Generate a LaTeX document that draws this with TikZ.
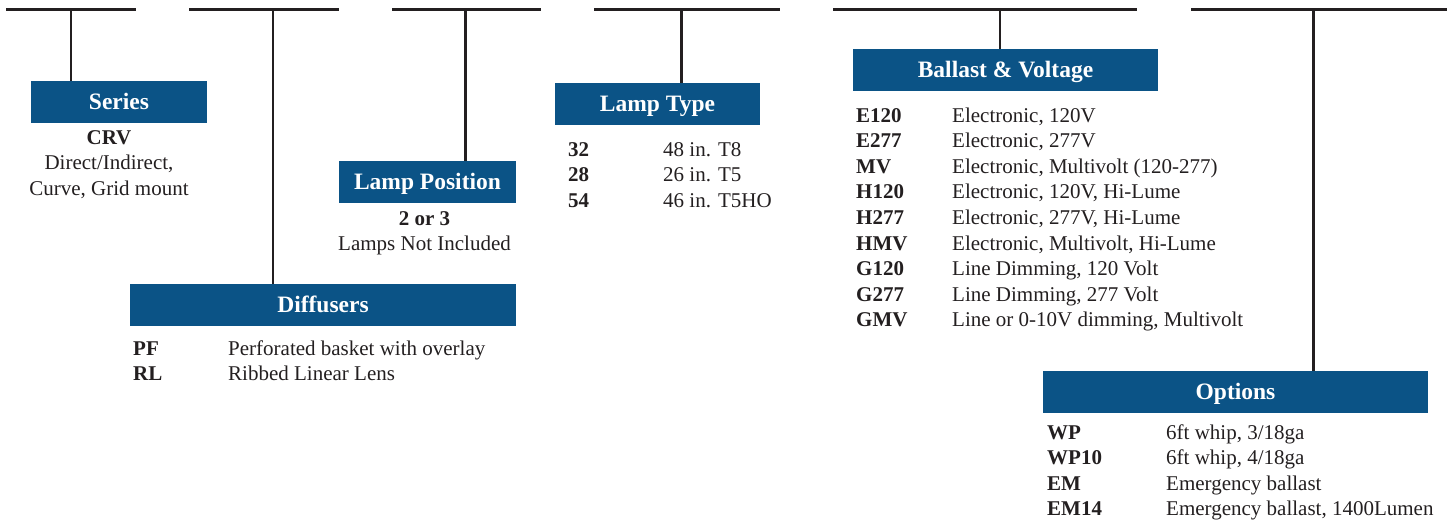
\documentclass[tikz,border=0pt]{standalone}
\usepackage{fontspec}
\setmainfont{Liberation Serif}
\definecolor{hdrblue}{HTML}{0B5386}
\definecolor{ink}{HTML}{231F20}
\begin{document}
\begin{tikzpicture}[x=1pt,y=-1pt,
  bar/.style={draw=ink,line width=2.7pt},
  stem/.style={draw=ink,line width=2.6pt},
  hdr/.style={fill=hdrblue,text=white,inner sep=0pt,minimum height=42pt,
    font=\fontsize{23.5}{28}\selectfont\bfseries,text height=15.5pt,text depth=0pt},
  code/.style={anchor=base west,inner sep=0pt,text=ink,font=\fontsize{21}{25.5}\selectfont\bfseries},
  desc/.style={anchor=base west,inner sep=0pt,text=ink,font=\fontsize{21}{25.5}\selectfont},
  ctr/.style={anchor=base,inner sep=0pt,text=ink,font=\fontsize{21}{25.5}\selectfont},
  ctrb/.style={anchor=base,inner sep=0pt,text=ink,font=\fontsize{21}{25.5}\selectfont\bfseries}]
\useasboundingbox (0,0) rectangle (1452,520);

% top bars
\coordinate (b1l) at (6,9.5);   \coordinate (b1r) at (136,9.5);
\coordinate (b2l) at (189,9.5); \coordinate (b2r) at (339,9.5);
\coordinate (b3l) at (392,9.5); \coordinate (b3r) at (541,9.5);
\coordinate (b4l) at (594,9.5); \coordinate (b4r) at (780,9.5);
\coordinate (b5l) at (833,9.5); \coordinate (b5r) at (1137,9.5);
\coordinate (b6l) at (1191,9.5);\coordinate (b6r) at (1447,9.5);
\foreach \i in {1,...,6} \draw[bar] (b\i l) -- (b\i r);

% stem tops
\coordinate (t1) at (71,9.5);
\coordinate (t2) at (273,9.5);
\coordinate (t3) at (465.5,9.5);
\coordinate (t4) at (681.5,9.5);
\coordinate (t5) at (1000,9.5);
\coordinate (t6) at (1313.5,9.5);

% header boxes
\node[hdr,minimum width=176pt] (series) at (119,102) {Series};
\node[hdr,minimum width=386pt] (diff) at (323,305) {Diffusers};
\node[hdr,minimum width=177pt] (lpos) at (427.5,182) {Lamp Position};
\node[hdr,minimum width=205pt] (ltype) at (657.5,104) {Lamp Type};
\node[hdr,minimum width=305pt] (ballast) at (1005.5,70) {Ballast \& Voltage};
\node[hdr,minimum width=385pt] (opts) at (1235.5,392) {Options};

% stems
\draw[stem] (t1) -- (t1 |- series.north);
\draw[stem] (t2) -- (t2 |- diff.north);
\draw[stem] (t3) -- (t3 |- lpos.north);
\draw[stem] (t4) -- (t4 |- ltype.north);
\draw[stem] (t5) -- (t5 |- ballast.north);
\draw[stem] (t6) -- (t6 |- opts.north);

% Series
\node[ctrb] (s1) at (109,144) {CRV};
\node[ctr] (s2) at (109,169) {Direct/Indirect,};
\node[ctr] (s3) at (109,195) {Curve, Grid mount};

% Lamp position
\node[ctrb] (p1) at (424.5,225) {2 or 3};
\node[ctr] (p2) at (424.5,250) {Lamps Not Included};

% Lamp type
\foreach \c/\d [count=\k from 0] in {32/48 in. T8,28/26 in. T5,54/46 in. T5HO}{
  \node[code] (lc\k) at (568,156+25.5*\k) {\c};
  \node[desc] (ld\k) at (663,156+25.5*\k) {\d};
}

% Diffusers
\node[code] (dc0) at (133,355) {PF};
\node[desc] (dd0) at (228,355) {Perforated basket with overlay};
\node[code] (dc1) at (133,380.5) {RL};
\node[desc] (dd1) at (228,380.5) {Ribbed Linear Lens};

% Ballast
\foreach \c/\d [count=\k from 0] in {E120/{Electronic, 120V},E277/{Electronic, 277V},
  MV/{Electronic, Multivolt (120-277)},H120/{Electronic, 120V, Hi-Lume},
  H277/{Electronic, 277V, Hi-Lume},HMV/{Electronic, Multivolt, Hi-Lume},
  G120/{Line Dimming, 120 Volt},G277/{Line Dimming, 277 Volt},
  GMV/{Line or 0-10V dimming, Multivolt}}{
  \node[code] (bc\k) at (856,122+25.6*\k) {\c};
  \node[desc] (bd\k) at (952,122+25.6*\k) {\d};
}

% Options
\foreach \c/\d [count=\k from 0] in {WP/{6ft whip, 3/18ga},WP10/{6ft whip, 4/18ga},
  EM/{Emergency ballast},EM14/{Emergency ballast, 1400Lumen}}{
  \node[code] (oc\k) at (1047,439+25.5*\k) {\c};
  \node[desc] (od\k) at (1166,439+25.5*\k) {\d};
}
\end{tikzpicture}
\end{document}
